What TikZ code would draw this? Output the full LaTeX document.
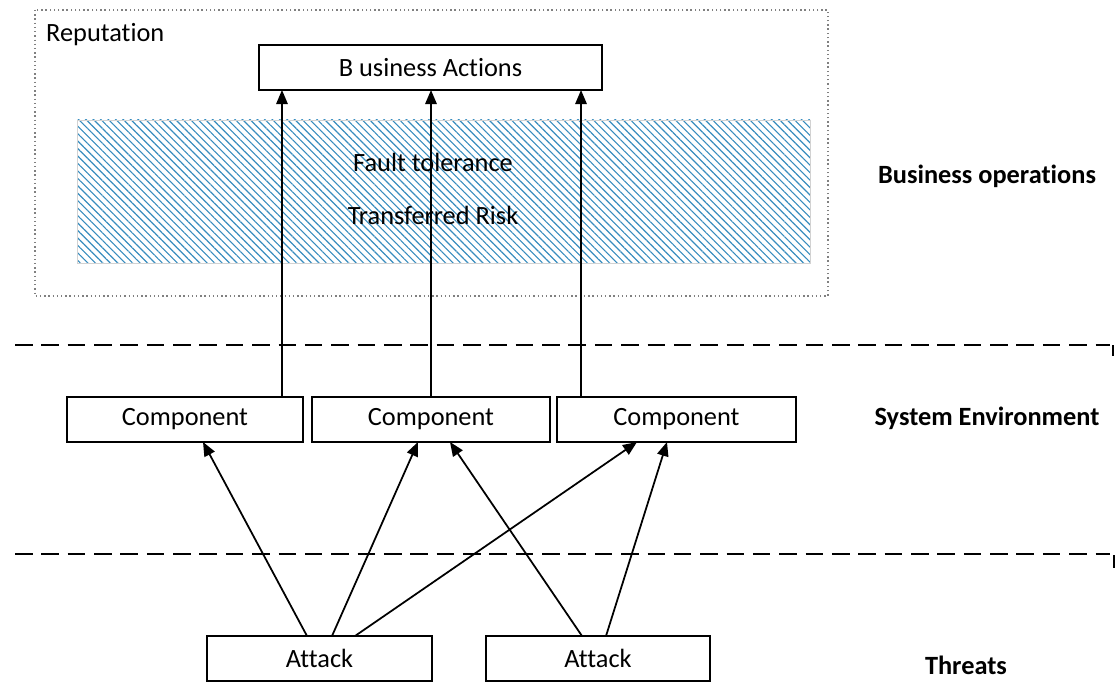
\documentclass[tikz,border=0pt]{standalone}
\usepackage{fontspec}
\setmainfont{Carlito}[Ligatures=NoCommon]
\usetikzlibrary{arrows.meta,patterns.meta}

\definecolor{hatchblue}{RGB}{55,140,190}
\tikzset{
  box/.style={draw, line width=0.8pt, inner sep=0pt, outer sep=0pt, minimum height=0.9cm},
  arr/.style={line width=1pt, -{Triangle[width=6.5pt,length=8pt]}},
  divider/.style={line width=1.2pt, dash pattern=on 10pt off 5pt},
  layer/.style={font=\fontsize{15}{18}\selectfont\bfseries}
}

\begin{document}
\begin{tikzpicture}[x=0.02cm, y=-0.02cm, every node/.style={font=\fontsize{15}{18}\selectfont}]
    \useasboundingbox (0,0) rectangle (1119,682);

    % Reputation (gepunkteter Rahmen)
    \draw[gray, line width=0.7pt, dash pattern=on 0.8pt off 1.6pt] (35,10) rectangle (828,296);
    \node[anchor=west] (rep) at (40,35) {Reputation};

    % schraffierte Flaeche
    \fill[pattern={Lines[angle=135,distance=3pt,line width=0.65pt]}, pattern color=hatchblue] (77,120) rectangle (810,263);
    \draw[gray!35, line width=0.5pt] (77,120) rectangle (810,263);
    \node (fault) at (433,162) {Fault tolerance};
    \node (risk) at (433,215) {Transferred Risk};

    % Boxen
    \node[box, minimum width=6.86cm, fill=white] (ba) at (430.5,67.5) {B usiness Actions};
    \node[box, minimum width=4.72cm] (comp1) at (185,419.5) {Component};
    \node[box, minimum width=4.76cm] (comp2) at (431,419.5) {Component};
    \node[box, minimum width=4.78cm] (comp3) at (676.5,419.5) {Component};
    \node[box, minimum width=4.5cm] (att1) at (319.5,658.5) {Attack};
    \node[box, minimum width=4.48cm] (att2) at (598,658.5) {Attack};

    % Trennlinien
    \draw[divider] (15,345) -- (1110,345);
    \draw[line width=1pt] (1113,345) -- (1113,356);
    \draw[divider] (15,554) -- (1110,554);
    \draw[line width=1pt] (1114,555) -- (1114,568);

    % Ebenen
    \node[layer] (ops) at (987,176) {Business operations};
    \node[layer] (env) at (987,418) {System Environment};
    \node[layer] (thr) at (966,665) {Threats};

    % Component -> Business Actions
    \draw[arr] ([xshift=1.94cm]comp1.north) -- ([xshift=1.94cm]comp1.north |- ba.south);
    \draw[arr] (comp2.north) -- (comp2.north |- ba.south);
    \draw[arr] ([xshift=-1.91cm]comp3.north) -- ([xshift=-1.91cm]comp3.north |- ba.south);

    % Attack -> Component
    \draw[arr] ([xshift=-0.25cm]att1.north) -- ([xshift=0.36cm]comp1.south);
    \draw[arr] ([xshift=0.25cm]att1.north) -- ([xshift=-0.26cm]comp2.south);
    \draw[arr] ([xshift=0.71cm]att1.north) -- ([xshift=-0.79cm]comp3.south);
    \draw[arr] ([xshift=-0.32cm]att2.north) -- ([xshift=0.38cm]comp2.south);
    \draw[arr] ([xshift=0.16cm]att2.north) -- ([xshift=-0.19cm]comp3.south);
\end{tikzpicture}
\end{document}
